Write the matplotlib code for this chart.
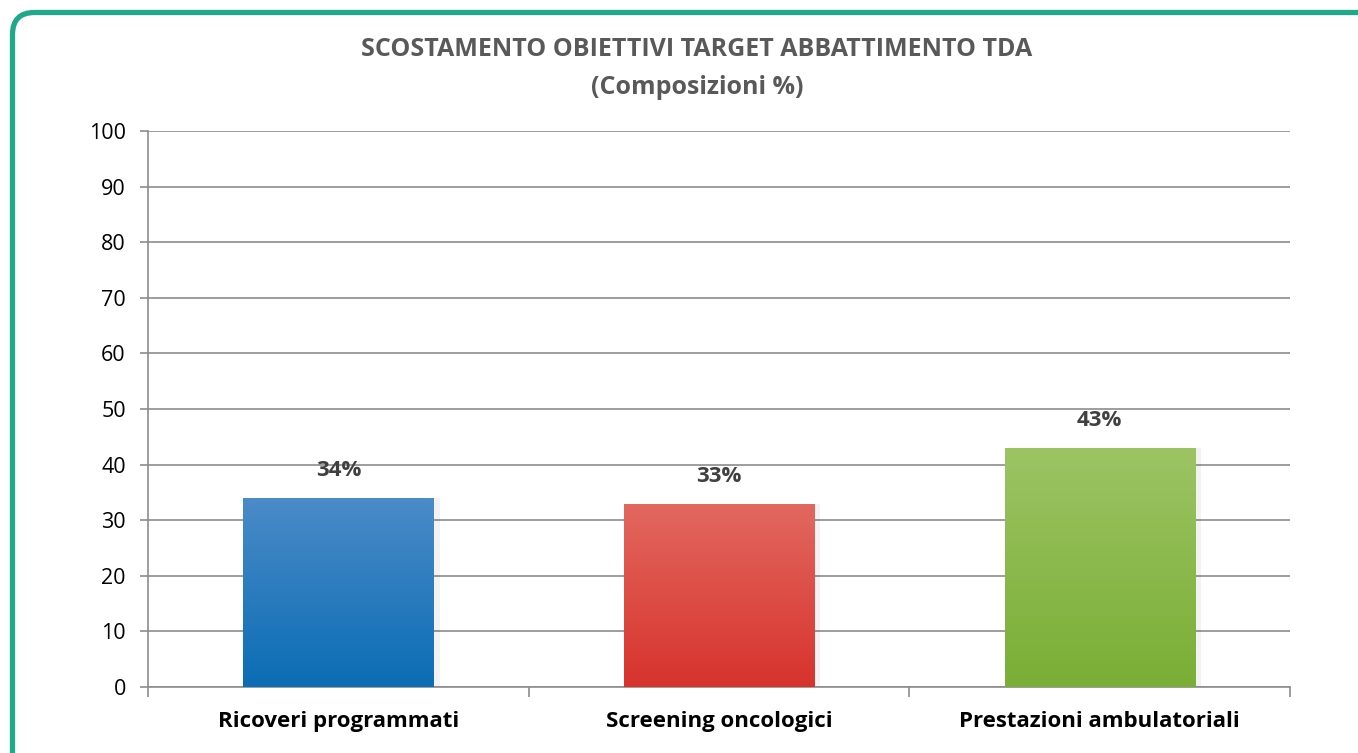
import numpy as np
import matplotlib.pyplot as plt
from matplotlib.patches import FancyBboxPatch
from matplotlib.colors import LinearSegmentedColormap

categories = ["Ricoveri programmati", "Screening oncologici", "Prestazioni ambulatoriali"]
values = [34, 33, 43]
labels = ["34%", "33%", "43%"]
title_lines = ["SCOSTAMENTO OBIETTIVI TARGET ABBATTIMENTO TDA", "(Composizioni %)"]

# top colour, bottom colour for each bar
bar_colors = [("#4b8bc8", "#0b6db4"), ("#e2685f", "#d7332d"), ("#9cc464", "#7aae35")]

plt.rcParams['font.family'] = ['Open Sans', 'DejaVu Sans']

fig = plt.figure(figsize=(13.58, 7.53), dpi=100)
fig.patch.set_facecolor("white")

# rounded green frame (right/bottom run off the picture)
frame = FancyBboxPatch((0.125, -1.0), 20, 7.53 - 0.125 + 1.0,
                       boxstyle="round,pad=0,rounding_size=0.22",
                       transform=fig.dpi_scale_trans, fill=False,
                       edgecolor="#1fa88a", linewidth=3.8, clip_on=False)
fig.patches.append(frame)

ax = fig.add_axes([148 / 1358, 1 - 687 / 753, (1290 - 148) / 1358, (687 - 131) / 753])
x = np.arange(len(categories))
bars = ax.bar(x, values, width=0.5, color="none", zorder=3)
for b, (top, bot) in zip(bars, bar_colors):
    x0, y0 = b.get_x(), b.get_y()
    w, h = b.get_width(), b.get_height()
    # soft shadow
    ax.bar(x0 + w / 2 + 0.008, h, width=w + 0.016, color="#000000", alpha=0.05, zorder=2)
    cmap = LinearSegmentedColormap.from_list("g", [bot, top])
    grad = np.linspace(0, 1, 256).reshape(-1, 1)
    im = ax.imshow(grad, extent=[x0, x0 + w, y0, y0 + h], origin="lower",
                   aspect="auto", cmap=cmap, zorder=3)
    im.set_clip_path(b)

for xi, v, lab in zip(x, values, labels):
    ax.annotate(lab, (xi, v), xytext=(0, 12), textcoords="offset points",
                ha="center", va="bottom", fontsize=16, fontweight="bold", color="#404040")

ax.set_xlim(-0.5, 2.5)
ax.set_ylim(0, 100)
ax.set_yticks(range(0, 101, 10))
ax.yaxis.grid(True, color="#8c8c8c", linewidth=1.2, zorder=0)
ax.set_axisbelow(True)

ax.set_xticks([-0.5, 0.5, 1.5, 2.5])
ax.set_xticklabels([])
ax.set_xticks(x, minor=True)
ax.set_xticklabels(categories, minor=True, fontsize=16, fontweight="bold", color="black")
ax.tick_params(axis="x", which="minor", length=0, pad=17)
ax.tick_params(axis="x", which="major", length=7, width=1.2, color="#8c8c8c")
ax.tick_params(axis="y", length=6, width=1.2, color="#8c8c8c", labelsize=15.5, pad=10)

for s in ["top", "right"]:
    ax.spines[s].set_visible(False)
for s in ["left", "bottom"]:
    ax.spines[s].set_color("#8c8c8c")
    ax.spines[s].set_linewidth(1.2)

fig.text(697 / 1358, 1 - 50 / 753, title_lines[0], ha="center", va="center",
         fontsize=18, fontweight="bold", color="#595959")
fig.text(697 / 1358, 1 - 88 / 753, title_lines[1], ha="center", va="center",
         fontsize=18, fontweight="bold", color="#595959")

fig.savefig("out.png", dpi=100)
